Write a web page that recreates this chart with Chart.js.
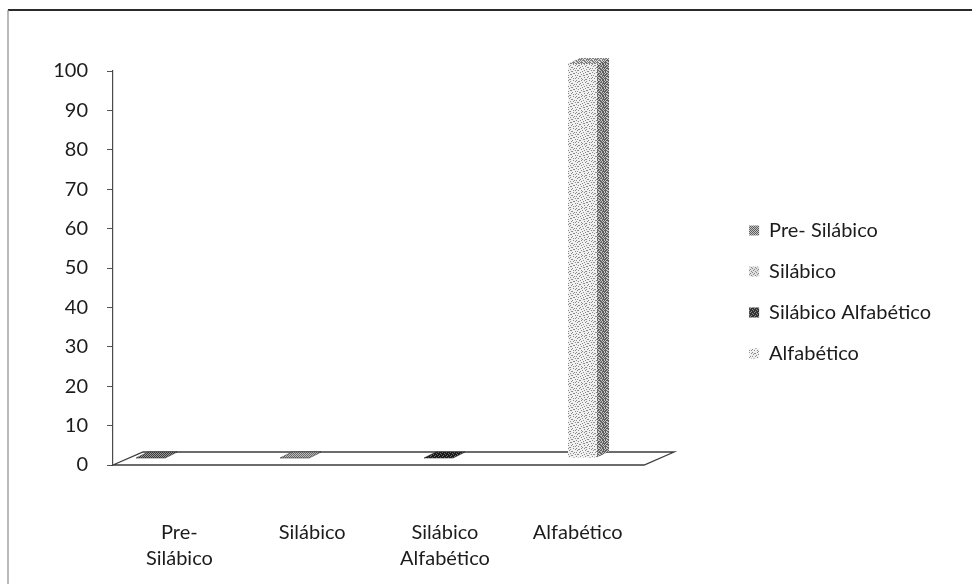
<!DOCTYPE html>
<html>
<head>
<meta charset="utf-8">
<script src="https://cdn.jsdelivr.net/npm/chart.js@4.4.0/dist/chart.umd.min.js"></script>
<style>
  html, body { margin: 0; padding: 0; background: #ffffff; }
  #wrap { width: 972px; height: 584px; }
</style>
</head>
<body>
<div id="wrap"><canvas id="c" width="972" height="584"></canvas></div>
<script>
// Category axis labels (multi-line where the label wraps)
const categories = [['Pre-', 'Silábico'], 'Silábico', ['Silábico', 'Alfabético'], 'Alfabético'];
// Series names shown in the legend
const seriesNames = ['Pre- Silábico', 'Silábico', 'Silábico Alfabético', 'Alfabético'];
// Each series only has a value in its own category
const preSilabico        = [0, null, null, null];
const silabico           = [null, 0, null, null];
const silabicoAlfabetico = [null, null, 0, null];
const alfabetico         = [null, null, null, 100];
// Value axis tick labels
const yTickValues = [0, 10, 20, 30, 40, 50, 60, 70, 80, 90, 100];

const FONT = 'Lato, "Open Sans", sans-serif';
const TEXT = '#1c1c1c';

// Pixel tiles used for the grey textured fills
function makePattern(rows, ink, bg) {
  const h = rows.length, w = rows[0].length;
  const cv = document.createElement('canvas');
  cv.width = w; cv.height = h;
  const g = cv.getContext('2d');
  g.fillStyle = bg; g.fillRect(0, 0, w, h);
  g.fillStyle = ink;
  rows.forEach((r, yy) => { for (let xx = 0; xx < w; xx++) if (r[xx] === '1') g.fillRect(xx, yy, 1, 1); });
  return g.createPattern(cv, 'repeat');
}
const CHECK = ['10', '01'];
const DOTS = ['1000', '0010', '0100', '0001'];
const DENSE = ['1101', '0111', '1011', '1110'];
const MOTTLE = [
  '1000010010000100',
  '0011000000100001',
  '0100001001000000',
  '0000100000011000',
  '1001000100000010',
  '0000010000100100',
  '0110000010000001',
  '0000001000011000',
  '1000100001000000',
  '0010000100000110',
  '0000010000110000',
  '0100000110000001',
  '0001100000001000',
  '1000000010010000',
  '0010010000000101',
  '0000001001100000'
];
const SPECKLE = [
  '10110100',
  '01011011',
  '11010110',
  '00111101',
  '10101011',
  '11010100',
  '01101110',
  '10110101'
];

const styles = [
  { front: makePattern(CHECK, '#5c5c5c', '#c4c4c4'), side: makePattern(CHECK, '#3a3a3a', '#8a8a8a'), top: makePattern(CHECK, '#3c3c3c', '#9a9a9a') },
  { front: makePattern(DOTS, '#8a8a8a', '#dedede'),  side: makePattern(DOTS, '#555555', '#a8a8a8'),  top: makePattern(CHECK, '#6a6a6a', '#bdbdbd') },
  { front: makePattern(DENSE, '#333333', '#8c8c8c'), side: makePattern(DENSE, '#1e1e1e', '#5a5a5a'), top: makePattern(DENSE, '#1a1a1a', '#707070') },
  { front: makePattern(MOTTLE, '#8c8c8c', '#f0f0f0'), side: makePattern(SPECKLE, '#5e5e5e', '#c4c4c4'), top: makePattern(SPECKLE, '#808080', '#e0e0e0') }
];

// Depth of the floor and of the columns (pseudo 3-D)
const FLOOR_DX = 30, FLOOR_DY = -13;
const BAR_SHIFT_X = -12, BAR_SHIFT_Y = -7;
const BAR_DX = 12, BAR_DY = -6;

function face(ctx, pts, fill) {
  ctx.beginPath();
  ctx.moveTo(pts[0][0], pts[0][1]);
  for (let k = 1; k < pts.length; k++) ctx.lineTo(pts[k][0], pts[k][1]);
  ctx.closePath();
  ctx.fillStyle = fill;
  ctx.fill();
}

const depthPlugin = {
  id: 'depth3d',
  beforeDatasetsDraw(chart) {
    const { ctx, chartArea: a, scales: { y } } = chart;
    const y0 = y.getPixelForValue(0);
    ctx.save();
    // floor
    ctx.beginPath();
    ctx.moveTo(a.left, y0);
    ctx.lineTo(a.right, y0);
    ctx.lineTo(a.right + FLOOR_DX, y0 + FLOOR_DY);
    ctx.lineTo(a.left + FLOOR_DX, y0 + FLOOR_DY);
    ctx.closePath();
    ctx.strokeStyle = '#3c3c3c';
    ctx.lineWidth = 1.3;
    ctx.stroke();
    // columns
    chart.data.datasets.forEach((ds, di) => {
      const meta = chart.getDatasetMeta(di);
      const st = styles[di];
      meta.data.forEach((el, i) => {
        if (ds.data[i] === null || ds.data[i] === undefined) return;
        const p = el.getProps(['x', 'y', 'base', 'width'], true);
        const x0 = p.x - p.width / 2 + BAR_SHIFT_X, x1 = x0 + p.width;
        const yt = p.y + BAR_SHIFT_Y, yb = p.base + BAR_SHIFT_Y;
        if (yb - yt > 0.5) {
          face(ctx, [[x1, yt], [x1 + BAR_DX, yt + BAR_DY], [x1 + BAR_DX, yb + BAR_DY], [x1, yb]], st.side);
          face(ctx, [[x0, yt], [x1, yt], [x1, yb], [x0, yb]], st.front);
        }
        face(ctx, [[x0, yt], [x1, yt], [x1 + BAR_DX, yt + BAR_DY], [x0 + BAR_DX, yt + BAR_DY]], st.top);
        if (yb - yt <= 0.5) {
          ctx.strokeStyle = 'rgba(40,40,40,0.7)';
          ctx.lineWidth = 0.8;
          ctx.stroke();
        }
      });
    });
    ctx.restore();
  },
  beforeDatasetDraw() { return false; }
};

// Outer frame of the figure (top and left edges)
const framePlugin = {
  id: 'frame',
  afterDraw(chart) {
    const ctx = chart.ctx;
    ctx.save();
    ctx.strokeStyle = '#2a2a2a';
    ctx.lineWidth = 2;
    ctx.beginPath(); ctx.moveTo(8, 10); ctx.lineTo(972, 10); ctx.stroke();
    ctx.strokeStyle = '#8a8a8a';
    ctx.lineWidth = 1.2;
    ctx.beginPath(); ctx.moveTo(8, 10); ctx.lineTo(8, 584); ctx.stroke();
    ctx.restore();
  }
};

const seriesData = [preSilabico, silabico, silabicoAlfabetico, alfabetico];

new Chart(document.getElementById('c'), {
  type: 'bar',
  data: {
    labels: categories,
    datasets: seriesNames.map((name, k) => ({
      label: name,
      data: seriesData[k],
      backgroundColor: styles[k].front,
      borderWidth: 0,
      categoryPercentage: 0.337,
      barPercentage: 2.6
    }))
  },
  options: {
    responsive: false,
    animation: false,
    devicePixelRatio: 1,
    layout: { padding: { left: 0, right: 31, top: 0, bottom: 0 } },
    plugins: {
      legend: {
        position: 'right',
        align: 'center',
        maxWidth: 400,
        labels: {
          boxWidth: 10,
          boxHeight: 10,
          padding: 21,
          color: TEXT,
          font: { family: FONT, size: 20 }
        }
      },
      tooltip: { enabled: false }
    },
    scales: {
      x: {
        grid: { display: false, drawTicks: false },
        border: { display: false },
        ticks: {
          color: TEXT,
          padding: 55,
          maxRotation: 0,
          autoSkip: false,
          font: { family: FONT, size: 20, lineHeight: 1.3 }
        },
        afterFit(s) { s.height = 119; }
      },
      xTop: {
        position: 'top',
        type: 'category',
        labels: [''],
        grid: { display: false, drawTicks: false },
        border: { display: false },
        ticks: { display: false },
        afterFit(s) { s.height = 71; }
      },
      y: {
        min: 0,
        max: 100,
        afterBuildTicks(s) { s.ticks = yTickValues.map(v => ({ value: v })); },
        grid: { display: true, drawOnChartArea: false, drawTicks: true, tickLength: 6, color: '#555555' },
        border: { display: true, color: '#4a4a4a', width: 1.2 },
        ticks: {
          color: TEXT,
          padding: 19,
          font: { family: FONT, size: 20 }
        },
        afterFit(s) { s.width = 113; }
      },
      yRight: {
        position: 'right',
        type: 'linear',
        grid: { display: false, drawTicks: false },
        border: { display: false },
        ticks: { display: false },
        afterFit(s) { s.width = 84; }
      }
    }
  },
  plugins: [depthPlugin, framePlugin]
});
</script>
</body>
</html>
